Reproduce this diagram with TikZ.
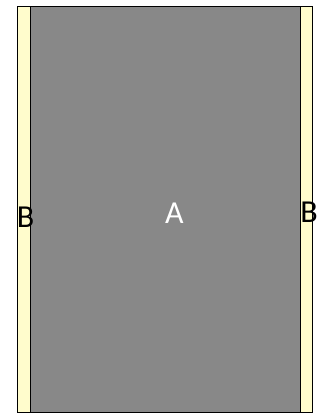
\documentclass[tikz,border=0pt]{standalone}
\usepackage{fontspec}
\setmainfont{Carlito}
\usetikzlibrary{positioning}
\definecolor{panelgray}{RGB}{136,136,136}
\definecolor{stripyellow}{RGB}{255,252,204}

\begin{document}
\begin{tikzpicture}[
    x=1pt, y=-1pt,
    panel/.style={
        rectangle,
        draw,
        line width=1pt,
        inner sep=0pt,
        outer sep=0pt,
        minimum height=405.5pt
    },
    mainpanel/.style={
        panel,
        fill=panelgray,
        minimum width=270.5pt
    },
    sidestrip/.style={
        panel,
        fill=stripyellow,
        minimum width=12.4pt
    },
    tag/.style={
        inner sep=0pt,
        font=\fontsize{32}{38}\selectfont
    }
]

\useasboundingbox (0,0) rectangle (321,413);

% Panels
\node[mainpanel] (panelA) at (165.25,209.25) {};
\node[sidestrip, left=0pt of panelA] (stripL) {};
\node[sidestrip, right=0pt of panelA] (stripR) {};

% Labels
\node[tag, text=white] (tagA) at (174.5,213.5) {A};
\node[tag] (tagBL) at (25.5,217.5) {B};
\node[tag] (tagBR) at (309,212) {B};

\end{tikzpicture}
\end{document}
